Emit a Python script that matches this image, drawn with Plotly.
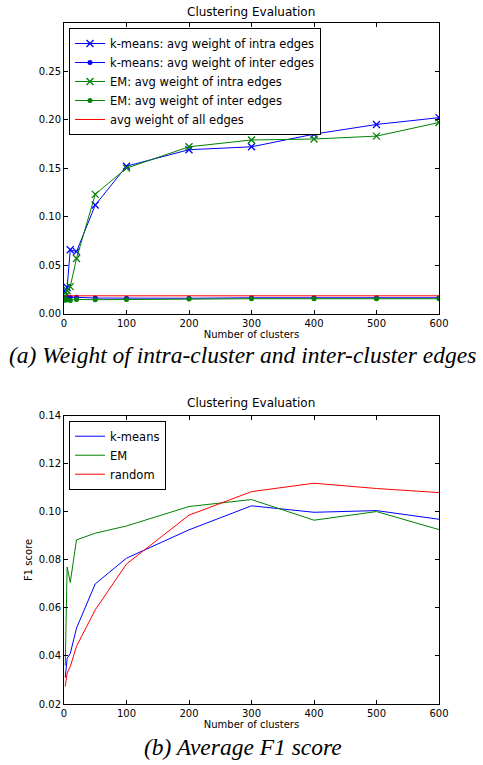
import plotly.graph_objects as go

# ---- data ----
clusters = [2, 5, 10, 20, 50, 100, 200, 300, 400, 500, 600]

km_intra = [0.022, 0.027, 0.066, 0.064, 0.112, 0.152, 0.169, 0.172, 0.185, 0.195, 0.202]
km_inter = [0.016, 0.017, 0.017, 0.017, 0.0162, 0.016, 0.016, 0.0165, 0.0165, 0.0165, 0.0165]
em_intra = [0.018, 0.024, 0.028, 0.057, 0.123, 0.150, 0.172, 0.179, 0.180, 0.183, 0.197]
em_inter = [0.014, 0.0145, 0.0138, 0.0148, 0.0145, 0.0148, 0.0152, 0.0155, 0.0155, 0.0155, 0.0155]
all_edges = [0.0185] * len(clusters)

km_f1 = [0.031, 0.039, 0.041, 0.0516, 0.070, 0.0807, 0.0925, 0.1025, 0.0998, 0.1005, 0.0969]
em_f1 = [0.036, 0.077, 0.0706, 0.0883, 0.0911, 0.0941, 0.1022, 0.1051, 0.0965, 0.1001, 0.0926]
rand_f1 = [0.0273, 0.0329, 0.0356, 0.044, 0.0592, 0.0783, 0.0986, 0.1084, 0.1119, 0.1097, 0.1080]

x_ticks = [0, 100, 200, 300, 400, 500, 600]
y1_ticks = [0.00, 0.05, 0.10, 0.15, 0.20, 0.25]
y2_ticks = [0.02, 0.04, 0.06, 0.08, 0.10, 0.12, 0.14]

BLUE = "#0000ff"
GREEN = "#008000"
RED = "#ff0000"
FONT = "DejaVu Sans"
W, H = 483, 765

# plot-area pixel geometry
L, R = 64, 439
T1, B1 = 23, 314
T2, B2 = 416, 704.5
ML, MR, MT, MB = L, W - R, T1, H - B2
PW, PH = R - L, B2 - T1


def ydom(top, bot):
    return [(B2 - bot) / PH, (B2 - top) / PH]


def px_x(p):
    return (p - L) / PW


def px_y(p):
    return (B2 - p) / PH


fig = go.Figure()


def add(x, y, name, color, symbol=None, xa="x", ya="y", legend="legend"):
    mode = "lines+markers" if symbol else "lines"
    kw = dict(x=x, y=y, name=name, mode=mode, xaxis=xa, yaxis=ya, legend=legend,
              line=dict(color=color, width=1))
    if symbol == "x":
        kw["marker"] = dict(symbol="x-thin", size=7, line=dict(color=color, width=1.3), color=color)
    elif symbol == "dot":
        kw["marker"] = dict(symbol="circle", size=5, color=color)
    fig.add_trace(go.Scatter(**kw))


add(clusters, km_intra, "k-means: avg weight of intra edges", BLUE, "x")
add(clusters, km_inter, "k-means: avg weight of inter edges", BLUE, "dot")
add(clusters, em_intra, "EM: avg weight of intra edges", GREEN, "x")
add(clusters, em_inter, "EM: avg weight of inter edges", GREEN, "dot")
add(clusters, all_edges, "avg weight of all edges", RED)

add(clusters, km_f1, "k-means", BLUE, None, "x2", "y2", "legend2")
add(clusters, em_f1, "EM", GREEN, None, "x2", "y2", "legend2")
add(clusters, rand_f1, "random", RED, None, "x2", "y2", "legend2")

axis_common = dict(showline=True, linecolor="black", linewidth=1, mirror="allticks",
                   ticks="inside", ticklen=4, tickcolor="black", showgrid=False,
                   zeroline=False, automargin=False,
                   tickfont=dict(family=FONT, size=10, color="black"))
title_font = dict(family=FONT, size=10, color="black")

fig.update_layout(
    width=W, height=H,
    margin=dict(l=ML, r=MR, t=MT, b=MB, autoexpand=False),
    paper_bgcolor="white", plot_bgcolor="white",
    showlegend=True,
    xaxis=dict(domain=[0, 1], anchor="y", range=[0, 600], tickvals=x_ticks,
               title=dict(text="Number of clusters", font=title_font, standoff=2),
               **axis_common),
    yaxis=dict(domain=ydom(T1, B1), anchor="x", range=[0, 0.2995], tickvals=y1_ticks,
               tickformat=".2f", **axis_common),
    xaxis2=dict(domain=[0, 1], anchor="y2", range=[0, 600], tickvals=x_ticks,
                title=dict(text="Number of clusters", font=title_font, standoff=2),
                **axis_common),
    yaxis2=dict(domain=ydom(T2, B2), anchor="x2", range=[0.02, 0.14], tickvals=y2_ticks,
                tickformat=".2f",
                title=dict(text="F1 score", font=title_font, standoff=4),
                **axis_common),
    legend=dict(x=px_x(69), y=px_y(28), xanchor="left", yanchor="top",
                bgcolor="white", bordercolor="black", borderwidth=1,
                font=dict(family=FONT, size=11.5, color="black"), tracegroupgap=0,
                itemwidth=30),
    legend2=dict(x=px_x(69), y=px_y(421), xanchor="left", yanchor="top",
                 bgcolor="white", bordercolor="black", borderwidth=1,
                 font=dict(family=FONT, size=11.5, color="black"), tracegroupgap=0,
                 itemwidth=30),
)

annots = [
    dict(text="Clustering Evaluation", x=px_x(251), y=px_y(12), font=dict(family=FONT, size=12)),
    dict(text="Clustering Evaluation", x=px_x(251), y=px_y(403), font=dict(family=FONT, size=12)),
    dict(text="<i>(a) Weight of intra-cluster and inter-cluster edges</i>", x=px_x(242), y=px_y(355),
         font=dict(family="Liberation Serif", size=23.5)),
    dict(text="<i>(b) Average F1 score</i>", x=px_x(243), y=px_y(748),
         font=dict(family="Liberation Serif", size=23.5)),
]
for a in annots:
    a["font"]["color"] = "black"
    fig.add_annotation(xref="paper", yref="paper", showarrow=False, xanchor="center",
                       yanchor="middle", **a)

fig.write_html("out.html", post_script="document.body.style.margin='0';",
               config={"displayModeBar": False})
